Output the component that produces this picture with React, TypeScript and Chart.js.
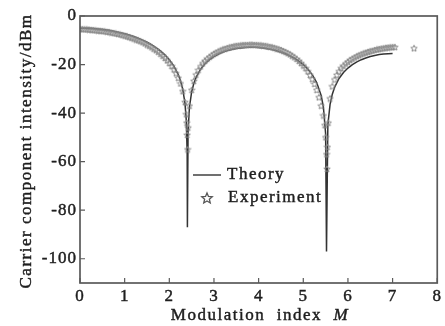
import React, { useEffect, useRef } from "react";
import { Chart, registerables } from "chart.js";

Chart.register(...registerables);

const theoryM = [0, 0.1, 0.2, 0.3, 0.4, 0.5, 0.6, 0.7, 0.8, 0.9, 1.0, 1.1, 1.2, 1.3, 1.4, 1.5, 1.6, 1.7, 1.8, 1.9, 2.0, 2.1, 2.2,
  2.25, 2.3, 2.35, 2.38, 2.4, 2.405, 2.42, 2.45, 2.5, 2.55, 2.6,
  2.7, 2.8, 2.9, 3.0, 3.1, 3.2, 3.3, 3.4, 3.5, 3.6, 3.7, 3.8, 3.9, 4.0, 4.1, 4.2, 4.3, 4.4, 4.5, 4.6, 4.7, 4.8, 4.9, 5.0, 5.1, 5.2, 5.3, 5.4,
  5.45, 5.5, 5.52, 5.55, 5.6, 5.65, 5.7,
  5.8, 5.9, 6.0, 6.1, 6.2, 6.3, 6.4, 6.5, 6.6, 6.7, 6.8, 6.9, 7.0];
const theoryDb = [-5.0, -5.02, -5.09, -5.2, -5.35, -5.55, -5.8, -6.1, -6.45, -6.86, -7.32, -7.86, -8.46, -9.15, -9.93, -10.82, -11.83, -13.0, -14.37, -16.0, -18.0, -20.57, -24.14,
  -26.65, -30.11, -35.8, -42.9, -57.0, -87, -47.5, -37.7, -31.3, -27.7, -25.28,
  -21.93, -19.66, -17.98, -16.7, -15.69, -14.89, -14.26, -13.77, -13.4, -13.14, -12.98, -12.9, -12.92, -13.02, -13.21, -13.48, -13.85, -14.31, -14.88, -15.57, -16.4, -17.38, -18.57, -20.01, -21.81, -24.15, -27.4, -32.7,
  -37.4, -48.35, -97, -44.8, -36.4, -32.2, -29.45,
  -25.75, -23.27, -21.44, -20.03, -18.9, -18.0, -17.28, -16.7, -16.24, -15.9, -15.66, -15.51, -15.45];

const expM = [0.0, 0.05, 0.1, 0.15, 0.2, 0.25, 0.3, 0.35, 0.4, 0.45, 0.5, 0.55, 0.6, 0.65, 0.7, 0.75, 0.8, 0.85, 0.9, 0.95,
  1.0, 1.05, 1.1, 1.15, 1.2, 1.25, 1.3, 1.35, 1.4, 1.45, 1.5, 1.55, 1.6, 1.65, 1.7, 1.75, 1.8, 1.85, 1.9, 1.95,
  2.0, 2.05, 2.1, 2.15, 2.2, 2.25, 2.3, 2.35, 2.38, 2.39, 2.4, 2.41, 2.42, 2.45, 2.5, 2.55, 2.6, 2.65, 2.7, 2.75, 2.8, 2.85, 2.9, 2.95,
  3.0, 3.05, 3.1, 3.15, 3.2, 3.25, 3.3, 3.35, 3.4, 3.45, 3.5, 3.55, 3.6, 3.65, 3.7, 3.75, 3.8, 3.85, 3.9, 3.95,
  4.0, 4.05, 4.1, 4.15, 4.2, 4.25, 4.3, 4.35, 4.4, 4.45, 4.5, 4.55, 4.6, 4.65, 4.7, 4.75, 4.8, 4.85, 4.9, 4.95,
  5.0, 5.05, 5.1, 5.15, 5.2, 5.25, 5.3, 5.35, 5.4, 5.45, 5.48, 5.5, 5.52, 5.53, 5.54, 5.56, 5.6, 5.65, 5.7, 5.75, 5.8, 5.85, 5.9, 5.95,
  6.0, 6.05, 6.1, 6.15, 6.2, 6.25, 6.3, 6.35, 6.4, 6.45, 6.5, 6.55, 6.6, 6.65, 6.7, 6.75, 6.8, 6.85, 6.9, 6.95,
  7.0, 7.05, 7.48];
const expDb = [-5.4, -5.4, -5.5, -5.5, -5.6, -5.7, -5.8, -5.9, -6.0, -6.1, -6.2, -6.3, -6.5, -6.6, -6.8, -7.0, -7.2, -7.4, -7.6, -7.9,
  -8.1, -8.4, -8.7, -9.0, -9.3, -9.7, -10.0, -10.4, -10.8, -11.3, -11.8, -12.3, -12.9, -13.5, -14.1, -14.8, -15.6, -16.4, -17.3, -18.3,
  -19.4, -20.6, -22.0, -23.6, -25.5, -27.8, -31.0, -35.5, -40.5, -44.0, -49.0, -55.0, -46.0, -37.0, -30.5, -26.8, -24.2, -22.3, -20.8, -19.5, -18.5, -17.6, -16.9, -16.2,
  -15.6, -15.1, -14.6, -14.2, -13.8, -13.5, -13.2, -12.9, -12.7, -12.5, -12.3, -12.2, -12.1, -12.0, -11.9, -11.9, -11.8, -11.8, -11.9, -11.9,
  -12.0, -12.1, -12.2, -12.3, -12.5, -12.7, -12.9, -13.1, -13.4, -13.7, -14.0, -14.4, -14.8, -15.3, -15.8, -16.4, -17.0, -17.7, -18.5, -19.4,
  -20.4, -21.5, -22.8, -24.3, -26.0, -28.0, -30.5, -33.5, -37.0, -41.0, -45.0, -50.0, -57.0, -63.0, -54.0, -44.0, -34.0, -29.0, -26.2, -24.3, -22.8, -21.5, -20.5, -19.6,
  -18.9, -18.2, -17.6, -17.1, -16.6, -16.2, -15.8, -15.4, -15.1, -14.8, -14.5, -14.3, -14.0, -13.8, -13.6, -13.4, -13.3, -13.1, -13.0, -12.9,
  -12.8, -12.8, -13.3];

const xTicks = [0, 1, 2, 3, 4, 5, 6, 7, 8];
const yTicks = [0, -20, -40, -60, -80, -100];

const yTitle = "Carrier component intensity/dBm";
const xTitleText = "Modulation  index  ";
const xTitleVar = "M";
const legendTheory = "Theory";
const legendExperiment = "Experiment";

const FONT = '"Liberation Serif", "Times New Roman", serif';
const TEXT = "#1e1e1e";
const STROKE_W = 0.45;

function drawStar(ctx: CanvasRenderingContext2D, cx: number, cy: number, r: number) {
  const ri = r * 0.45;
  ctx.beginPath();
  for (let i = 0; i < 10; i++) {
    const rad = i % 2 === 0 ? r : ri;
    const a = -Math.PI / 2 + (i * Math.PI) / 5;
    const px = cx + rad * Math.cos(a);
    const py = cy + rad * Math.sin(a);
    if (i === 0) ctx.moveTo(px, py);
    else ctx.lineTo(px, py);
  }
  ctx.closePath();
  ctx.stroke();
}

function makeStarImage() {
  const c = document.createElement("canvas");
  c.width = 8;
  c.height = 8;
  const g = c.getContext("2d")!;
  g.strokeStyle = "#888";
  g.lineWidth = 1;
  drawStar(g, 4, 4.3, 3.4);
  return c;
}

function boldText(ctx: CanvasRenderingContext2D, s: string, x: number, y: number) {
  ctx.fillText(s, x, y);
  ctx.strokeText(s, x, y);
}

const decorPlugin = {
  id: "decor",
  beforeUpdate(chart: any) {
    chart.ctx.letterSpacing = "1px";
  },
  beforeDraw(chart: any) {
    chart.ctx.letterSpacing = "1px";
  },
  afterDraw(chart: any) {
    const ctx: CanvasRenderingContext2D = chart.ctx;
    const { left, right, top, bottom } = chart.chartArea;
    const xs = chart.scales.x;
    const ys = chart.scales.y;
    ctx.save();
    // frame
    ctx.strokeStyle = "#5a5a5a";
    ctx.lineWidth = 1.7;
    ctx.strokeRect(left, top, right - left, bottom - top);
    // inner ticks
    ctx.lineWidth = 1.2;
    ctx.beginPath();
    for (const v of yTicks) {
      const y = ys.getPixelForValue(v);
      ctx.moveTo(left, y);
      ctx.lineTo(left + 5, y);
    }
    for (const v of xTicks) {
      const x = xs.getPixelForValue(v);
      ctx.moveTo(x, bottom);
      ctx.lineTo(x, bottom - 5);
    }
    ctx.stroke();

    ctx.fillStyle = TEXT;
    ctx.strokeStyle = TEXT;
    ctx.lineWidth = STROKE_W;
    ctx.letterSpacing = "1.5px";
    ctx.font = `17px ${FONT}`;
    // y title
    ctx.save();
    ctx.translate(31, 151);
    ctx.rotate(-Math.PI / 2);
    ctx.textAlign = "center";
    ctx.textBaseline = "alphabetic";
    boldText(ctx, yTitle, 0, 0);
    ctx.restore();

    // x title
    ctx.textAlign = "left";
    ctx.textBaseline = "alphabetic";
    ctx.font = `17px ${FONT}`;
    const w1 = ctx.measureText(xTitleText).width;
    ctx.font = `italic 17px ${FONT}`;
    const w2 = ctx.measureText(xTitleVar).width;
    const startX = 260 - (w1 + w2) / 2;
    ctx.font = `17px ${FONT}`;
    boldText(ctx, xTitleText, startX, 320);
    ctx.font = `italic 17px ${FONT}`;
    boldText(ctx, xTitleVar, startX + w1, 320);

    // legend
    ctx.font = `17px ${FONT}`;
    ctx.textBaseline = "middle";
    boldText(ctx, legendTheory, 227, 175);
    boldText(ctx, legendExperiment, 228, 198);
    ctx.strokeStyle = "#333";
    ctx.lineWidth = 1.4;
    ctx.beginPath();
    ctx.moveTo(193, 175);
    ctx.lineTo(221, 175);
    ctx.stroke();
    ctx.strokeStyle = "#555";
    ctx.lineWidth = 1.3;
    drawStar(ctx, 207, 198.5, 5.5);
    ctx.restore();
  },
};

export default function App() {
  const ref = useRef<HTMLCanvasElement | null>(null);
  useEffect(() => {
    if (!ref.current) return;
    const star = makeStarImage();
    const tickStyle = {
      padding: 3,
      color: TEXT,
      textStrokeColor: TEXT,
      textStrokeWidth: STROKE_W,
      font: { family: FONT, size: 17 },
    };
    const chart = new Chart(ref.current, {
      type: "scatter",
      data: {
        datasets: [
          {
            label: legendExperiment,
            data: expM.map((m, i) => ({ x: m, y: expDb[i] })),
            pointStyle: star as any,
            pointRadius: 4,
            showLine: false,
          },
          {
            label: legendTheory,
            type: "line",
            data: theoryM.map((m, i) => ({ x: m, y: theoryDb[i] })),
            borderColor: "#333",
            borderWidth: 1.5,
            pointRadius: 0,
            showLine: true,
            tension: 0,
            fill: false,
          } as any,
        ],
      },
      options: {
        animation: false,
        responsive: false,
        layout: { padding: { top: 16, right: 7, left: 0, bottom: 0 } },
        plugins: { legend: { display: false }, tooltip: { enabled: false }, title: { display: false } },
        scales: {
          x: {
            type: "linear",
            min: 0,
            max: 8,
            afterFit: (s: any) => {
              s.height = 43;
            },
            afterBuildTicks: (s: any) => {
              s.ticks = xTicks.map((v) => ({ value: v }));
            },
            grid: { display: false, drawTicks: false },
            border: { display: false },
            ticks: { ...tickStyle, maxRotation: 0 },
          },
          y: {
            type: "linear",
            min: -110,
            max: 0,
            afterFit: (s: any) => {
              s.width = 80;
            },
            afterBuildTicks: (s: any) => {
              s.ticks = yTicks.map((v) => ({ value: v }));
            },
            grid: { display: false, drawTicks: false },
            border: { display: false },
            ticks: tickStyle,
          },
        },
      },
      plugins: [decorPlugin],
    });
    return () => chart.destroy();
  }, []);
  return (
    <div style={{ position: "absolute", left: 0, top: 0, width: 445, height: 326, background: "#fff" }}>
      <canvas ref={ref} width={445} height={326} style={{ width: 445, height: 326, display: "block" }} />
    </div>
  );
}
